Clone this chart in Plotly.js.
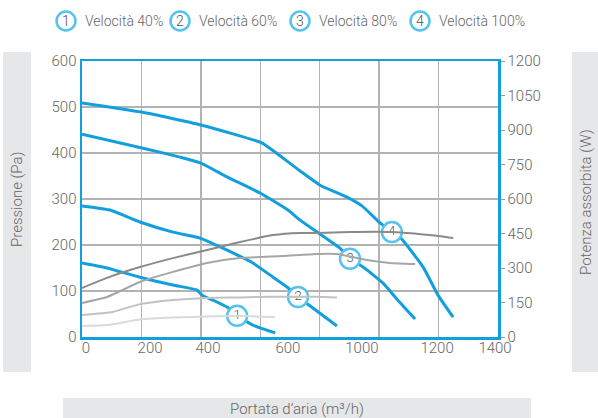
<!DOCTYPE html>
<html>
<head>
<meta charset="utf-8">
<script src="https://cdn.plot.ly/plotly-3.0.1.min.js"></script>
<style>html,body{margin:0;padding:0;background:#fff;}#chart{width:598px;height:418px;}</style>
</head>
<body>
<div id="chart"></div>
<script>
// ---- data ----
// Pressure curves (Pa) vs air flow (m3/h)
const flow1 = [0, 84, 195, 306, 387, 404, 441, 488, 522, 575, 650];
const pres1 = [161, 150, 130, 113, 102, 91, 80, 65, 46, 26, 9];
const flow2 = [0, 94, 195, 306, 397, 474, 575, 643, 693, 727, 777, 858];
const pres2 = [285, 276, 250, 228, 215, 193, 161, 130, 107, 87, 63, 24];
const flow3 = [0, 202, 330, 400, 488, 599, 693, 734, 868, 902, 946, 1013, 1063, 1121];
const pres3 = [441, 411, 391, 378, 348, 313, 276, 254, 193, 170, 152, 117, 80, 39];
const flow4 = [0, 200, 400, 605, 639, 734, 801, 892, 942, 1003, 1043, 1070, 1148, 1198, 1249];
const pres4 = [509, 489, 461, 422, 407, 361, 330, 304, 285, 248, 228, 217, 152, 91, 43];

// Absorbed power curves (W) vs air flow
const pflow1 = [0, 84, 195, 306, 421, 530, 650];
const power1 = [48, 52, 76, 85, 89, 91, 87];
const pflow2 = [0, 104, 195, 306, 421, 532, 643, 791, 858];
const power2 = [96, 109, 143, 161, 170, 172, 175, 175, 172];
const pflow3 = [0, 84, 195, 306, 421, 532, 676, 791, 858, 959, 1036, 1121];
const power3 = [148, 174, 239, 283, 322, 343, 352, 361, 361, 335, 322, 317];
const pflow4 = [0, 84, 195, 306, 421, 532, 643, 734, 791, 902, 1043, 1094, 1171, 1249];
const power4 = [213, 257, 304, 343, 378, 413, 443, 452, 452, 457, 457, 452, 443, 430];

// Curve number labels placed on the pressure curves
const labelNums = ['1', '2', '3', '4'];
const labelFlow = [522, 727, 902, 1043];
const labelPres = [46, 87, 170, 228];

// Legend
const legendNames = ['Velocità 40%', 'Velocità 60%', 'Velocità 80%', 'Velocità 100%'];

// Tick labels of the flow axis (as printed)
const flowTickVals = [13, 229, 424, 693, 942, 1195, 1390];
const flowTickText = ['0', '200', '400', '600', '1000', '1200', '1400'];

// ---- style ----
const BLUE = '#129fdd';
const CIRCLE = '#56c2ef';
const TXT = '#666666';
const FONT = 'Roboto, sans-serif';
const L = 82, R = 498, T = 61, B = 337;
const px = x => (x - L) / (R - L);
const py = y => (B - y) / (B - T);

const blueLine = {color: BLUE, width: 3, shape: 'spline', smoothing: 0.5};
const grays = ['#dadada', '#c2c2c2', '#a6a6a6', '#8a8a8a'];

const traces = [];
const pf = [pflow1, pflow2, pflow3, pflow4];
const pw = [power1, power2, power3, power4];
for (let i = 0; i < 4; i++) {
  traces.push({x: pf[i], y: pw[i], xaxis: 'x', yaxis: 'y2', mode: 'lines',
    line: {color: grays[i], width: 2, shape: 'spline', smoothing: 0.5}, hoverinfo: 'skip', showlegend: false});
}
const ff = [flow1, flow2, flow3, flow4];
const pp = [pres1, pres2, pres3, pres4];
for (let i = 0; i < 4; i++) {
  traces.push({x: ff[i], y: pp[i], xaxis: 'x', yaxis: 'y', mode: 'lines',
    line: blueLine, name: legendNames[i], showlegend: false});
}
traces.push({x: labelFlow, y: labelPres, text: labelNums, xaxis: 'x', yaxis: 'y',
  mode: 'markers+text', textposition: 'middle center',
  marker: {size: 20, color: '#ffffff', line: {color: CIRCLE, width: 2.5}},
  textfont: {family: FONT, size: 13, color: '#555', weight: 300}, showlegend: false, hoverinfo: 'skip'});
// invisible trace to activate the label axis
traces.push({x: [0, 1400], y: [0, 0], xaxis: 'x2', yaxis: 'y', mode: 'markers',
  marker: {opacity: 0}, showlegend: false, hoverinfo: 'skip'});

const shapes = [
  {type: 'rect', xref: 'paper', yref: 'paper', x0: px(3), x1: px(31), y0: py(372), y1: py(52),
    fillcolor: '#e6e7e8', line: {width: 0}, layer: 'below'},
  {type: 'rect', xref: 'paper', yref: 'paper', x0: px(572), x1: px(600), y0: py(372), y1: py(52),
    fillcolor: '#e6e7e8', line: {width: 0}, layer: 'below'},
  {type: 'rect', xref: 'paper', yref: 'paper', x0: px(63), x1: px(531), y0: py(420), y1: py(398),
    fillcolor: '#e6e7e8', line: {width: 0}, layer: 'below'}
];
const tf = {family: FONT, size: 15, color: TXT, weight: 300};
const lf = {family: FONT, size: 14, color: TXT, weight: 300};
const annotations = [
  {xref: 'paper', yref: 'paper', x: px(17), y: py(200), xanchor: 'center', yanchor: 'middle',
    text: 'Pressione (Pa)', textangle: -90, showarrow: false, font: tf},
  {xref: 'paper', yref: 'paper', x: px(586), y: py(202), xanchor: 'center', yanchor: 'middle',
    text: 'Potenza assorbita (W)', textangle: -90, showarrow: false, font: tf},
  {xref: 'paper', yref: 'paper', x: px(297), y: py(409), xanchor: 'center', yanchor: 'middle',
    text: 'Portata d\u2019aria (m\u00b3/h)', showarrow: false, font: tf}
];
const legX = [66, 180, 300, 420];
for (let i = 0; i < 4; i++) {
  shapes.push({type: 'circle', xref: 'paper', yref: 'paper', xsizemode: 'pixel', ysizemode: 'pixel',
    xanchor: px(legX[i]), yanchor: py(21), x0: -9.5, x1: 9.5, y0: -9.5, y1: 9.5,
    fillcolor: '#ffffff', line: {color: CIRCLE, width: 2.5}});
  annotations.push({xref: 'paper', yref: 'paper', x: px(legX[i]), y: py(21), xanchor: 'center', yanchor: 'middle',
    text: labelNums[i], showarrow: false, font: {family: FONT, size: 14, color: '#555', weight: 300}});
  annotations.push({xref: 'paper', yref: 'paper', x: px(legX[i] + 17), y: py(21), xanchor: 'left', yanchor: 'middle',
    text: legendNames[i], showarrow: false, font: lf});
}

const layout = {
  width: 598, height: 418,
  margin: {l: L, r: 598 - R, t: T, b: 418 - B},
  paper_bgcolor: '#ffffff', plot_bgcolor: '#ffffff',
  showlegend: false,
  font: {family: FONT, size: 14, color: TXT},
  xaxis: {range: [0, 1400], dtick: 200, tick0: 0, showgrid: true, gridcolor: '#b3b3b3', gridwidth: 1.5,
    showticklabels: false, ticks: '', zeroline: false, showline: true, linecolor: BLUE, linewidth: 2.5,
    mirror: true},
  xaxis2: {range: [0, 1400], overlaying: 'x', side: 'bottom', anchor: 'y', tickmode: 'array',
    tickvals: flowTickVals, ticktext: flowTickText, showgrid: false, zeroline: false, showline: false,
    ticks: '', tickfont: tf},
  yaxis: {range: [0, 600], dtick: 100, showgrid: true, gridcolor: '#b3b3b3', gridwidth: 1.5,
    zeroline: false, showline: true, linecolor: BLUE, linewidth: 2.5, ticks: '',
    tickfont: tf},
  yaxis2: {range: [0, 1200], dtick: 150, overlaying: 'y', side: 'right', anchor: 'x', showgrid: false,
    zeroline: false, showline: true, linecolor: BLUE, linewidth: 2.5, ticks: 'outside', ticklen: 4,
    tickcolor: '#999', tickfont: tf},
  shapes: shapes,
  annotations: annotations
};

Plotly.newPlot('chart', traces, layout, {staticPlot: true, displayModeBar: false});
</script>
</body>
</html>
